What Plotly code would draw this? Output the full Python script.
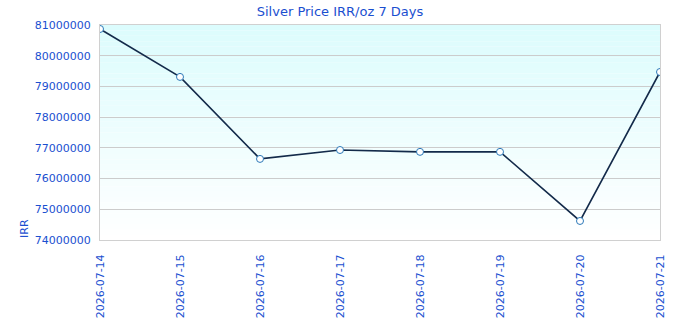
import plotly.graph_objects as go

dates = ["2026-07-14", "2026-07-15", "2026-07-16", "2026-07-17",
         "2026-07-18", "2026-07-19", "2026-07-20", "2026-07-21"]
prices = [80870000, 79310000, 76640000, 76930000, 76870000, 76870000, 74620000, 79470000]
y_ticks = [74000000, 75000000, 76000000, 77000000, 78000000, 79000000, 80000000, 81000000]

TXT = "#1a4fd0"
FONT = "DejaVu Sans"

fig = go.Figure()
fig.add_trace(go.Scatter(
    x=dates, y=prices, mode="lines+markers",
    line=dict(color="#132a4a", width=1.6),
    marker=dict(size=7, color="white", line=dict(color="#2a78b8", width=1)),
    hoverinfo="x+y", showlegend=False,
))

# gradient background via stacked bands
n = 40
top = (220, 252, 253)
bot = (255, 255, 255)
shapes = []
for i in range(n):
    t = i / (n - 1)
    c = tuple(round(top[k] + (bot[k] - top[k]) * t) for k in range(3))
    shapes.append(dict(type="rect", xref="x domain", yref="y domain",
                       x0=0, x1=1, y0=1 - (i + 1) / n, y1=1 - i / n,
                       fillcolor="rgb(%d,%d,%d)" % c, line=dict(width=0), layer="below"))

fig.update_layout(
    width=680, height=320,
    margin=dict(l=100, r=20, t=25, b=80),
    paper_bgcolor="white", plot_bgcolor="rgba(0,0,0,0)",
    shapes=shapes,
    title=dict(text="Silver Price IRR/oz 7 Days", x=0.5, xanchor="center",
               y=0.978, yanchor="top", font=dict(family=FONT, size=13, color=TXT)),
    font=dict(family=FONT, size=11, color=TXT),
    annotations=[dict(text="IRR", xref="paper", yref="paper", x=-0.135, y=0.0,
                      xanchor="center", yanchor="bottom", textangle=-90, showarrow=False,
                      font=dict(family=FONT, size=11, color=TXT))],
)
fig.update_xaxes(
    type="category", tickangle=-90, range=[0, len(dates) - 1],
    showgrid=False, showline=True, linecolor="#d0d0d0", mirror=True,
    ticks="outside", ticklen=9, tickcolor="rgba(0,0,0,0)", automargin=False,
    tickfont=dict(family=FONT, size=11, color=TXT),
)
fig.update_yaxes(
    range=[74000000, 81000000], tickvals=y_ticks, ticktext=[str(v) for v in y_ticks],
    showgrid=True, gridcolor="#cccccc", gridwidth=1,
    showline=True, linecolor="#d0d0d0", mirror=True, zeroline=False,
    ticks="outside", ticklen=6, tickcolor="rgba(0,0,0,0)", automargin=False,
    tickfont=dict(family=FONT, size=11, color=TXT),
)
fig.write_html("out.html")
